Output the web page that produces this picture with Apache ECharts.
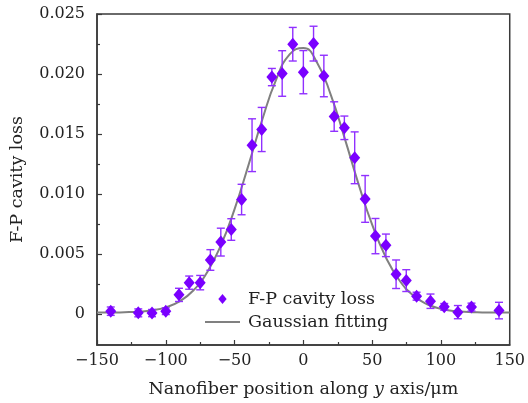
<!DOCTYPE html>
<html>
<head>
<meta charset="utf-8">
<script src="https://cdn.jsdelivr.net/npm/echarts@6/dist/echarts.min.js"></script>
<style>html,body{margin:0;padding:0;background:#fff}#c{width:528px;height:403px}</style>
</head>
<body>
<div id="c"></div>
<script>
// Measured data: position (um), cavity loss, error (half-length)
var positions = [-140, -120, -110, -100, -90.4, -83, -75, -67.6, -60, -52.4, -44.9,
  -37.3, -30.3, -22.9, -15.4, -7.7, 0, 7.4, 14.9, 22.4, 29.8, 37.3,
  44.9, 52.4, 60, 67.4, 74.8, 82.3, 92.4, 102.4, 112.3, 122.2, 142.2];
var lossValues = [0.00022, 0.00008, 0.00006, 0.00022, 0.00158, 0.0026, 0.0026, 0.00449, 0.00598, 0.00703, 0.00953,
  0.01406, 0.01537, 0.01974, 0.02004, 0.02248, 0.02015, 0.02253, 0.01983, 0.01645, 0.01551, 0.01301,
  0.00958, 0.00648, 0.00571, 0.0033, 0.00277, 0.00147, 0.00105, 0.00058, 0.00014, 0.00056, 0.00027];
var lossErrors = [0.00035, 0.00033, 0.0003, 0.00028, 0.00055, 0.00055, 0.0006, 0.00086, 0.00116, 0.0009, 0.00127,
  0.0022, 0.00184, 0.00072, 0.0019, 0.0014, 0.0018, 0.00145, 0.00173, 0.00123, 0.00098, 0.00216,
  0.00195, 0.00147, 0.00094, 0.00119, 0.00091, 0.00033, 0.0006, 0.00028, 0.00055, 0.00033, 0.00069];
// Gaussian fitting curve
var fitX = [-150, -140, -130, -120, -110, -100, -90, -80, -70, -60, -50, -40, -30, -20, -10, 0,
  10, 20, 30, 40, 50, 60, 70, 80, 90, 100, 110, 120, 130, 140, 150];
var fitY = [0.0001, 0.0001, 0.00013, 0.00018, 0.00029, 0.00054, 0.00104, 0.00194, 0.00345, 0.0057, 0.00873,
  0.01236, 0.01615, 0.01946, 0.02163, 0.02216, 0.02094, 0.01824, 0.01465, 0.01086, 0.00743, 0.0047,
  0.00276, 0.00152, 0.0008, 0.00042, 0.00023, 0.00015, 0.00012, 0.0001, 0.0001];
var yMajorTicks = [0, 0.005, 0.01, 0.015, 0.02, 0.025];
var yMinorTicks = [0.0025, 0.0075, 0.0125, 0.0175, 0.0225];

var FONT = 'DejaVu Serif';
var PURPLE = '#7a00ff';
var BAR = '#9030ff';
var AX = '#3a3a3a';

var scatterData = positions.map(function (x, i) { return [x, lossValues[i]]; });
var errData = positions.map(function (x, i) { return [x, lossValues[i] - lossErrors[i], lossValues[i] + lossErrors[i]]; });
var fitData = fitX.map(function (x, i) { return [x, fitY[i]]; });

var chart = echarts.init(document.getElementById('c'), null, {renderer: 'canvas'});
chart.setOption({
  animation: false,
  textStyle: {fontFamily: FONT},
  grid: {left: 96, right: 16, top: 14, bottom: 57, show: true, borderColor: AX, borderWidth: 1.5, backgroundColor: 'transparent'},
  legend: {
    left: 200, top: 285, orient: 'vertical', itemWidth: 35, itemHeight: 10, itemGap: 5,
    symbolKeepAspect: true,
    textStyle: {fontFamily: FONT, fontSize: 17.5, color: '#222', padding: [0, 0, 0, 3]},
    data: [
      {name: 'F-P cavity loss', icon: 'path://M5,0 L10,6 L5,12 L0,6 Z'},
      {name: 'Gaussian fitting', icon: 'path://M0,0 L35,0 L35,2 L0,2 Z', itemStyle: {color: '#808080'}}
    ]
  },
  xAxis: {
    type: 'value', min: -150, max: 150, interval: 50,
    name: 'Nanofiber position along {i|y} axis/μm', nameLocation: 'middle', nameGap: 35,
    nameTextStyle: {fontFamily: FONT, fontSize: 17.5, color: '#222', rich: {i: {fontStyle: 'italic', fontFamily: FONT, fontSize: 17.5, color: '#222'}}},
    axisLine: {show: true, onZero: false, lineStyle: {color: AX, width: 1.5}},
    axisTick: {show: true, inside: true, length: 5, lineStyle: {color: AX, width: 1.2}},
    minorTick: {show: true, splitNumber: 2, length: 3, lineStyle: {color: AX, width: 1.2}},
    axisLabel: {fontFamily: FONT, fontSize: 16, color: '#222', margin: 8,
      formatter: function (v) { return v < 0 ? '\u2212' + Math.abs(v) : String(v); }},
    splitLine: {show: false}
  },
  yAxis: [{
    type: 'value', min: -0.0026, max: 0.025,
    name: 'F-P cavity loss', nameLocation: 'middle', nameGap: 71,
    nameTextStyle: {fontFamily: FONT, fontSize: 17.5, color: '#222'},
    axisLine: {show: true, onZero: false, lineStyle: {color: AX, width: 1.5}},
    axisTick: {show: true, inside: true, length: 5, customValues: yMajorTicks, lineStyle: {color: AX, width: 1.2}},
    axisLabel: {fontFamily: FONT, fontSize: 16, color: '#222', margin: 12, customValues: yMajorTicks,
      formatter: function (v) { return v === 0 ? '0' : v.toFixed(3); }},
    splitLine: {show: false}
  }, {
    type: 'value', min: -0.0026, max: 0.025, position: 'left',
    axisLine: {show: false, onZero: false},
    axisTick: {show: true, inside: true, length: 3, customValues: yMinorTicks, lineStyle: {color: AX, width: 1.2}},
    axisLabel: {show: false},
    splitLine: {show: false}
  }],
  series: [
    {
      name: 'Gaussian fitting', type: 'line', data: fitData, smooth: true, symbol: 'none',
      lineStyle: {color: '#808080', width: 2}, itemStyle: {color: '#808080'}, z: 2
    },
    {
      name: 'error', type: 'custom', data: errData, z: 3,
      renderItem: function (params, api) {
        var x = api.value(0);
        var lo = api.coord([x, api.value(1)]);
        var hi = api.coord([x, api.value(2)]);
        var half = 4;
        var st = {stroke: BAR, lineWidth: 1.4, fill: null};
        return {type: 'group', children: [
          {type: 'line', shape: {x1: lo[0], y1: lo[1], x2: hi[0], y2: hi[1]}, style: st},
          {type: 'line', shape: {x1: lo[0] - half, y1: lo[1], x2: lo[0] + half, y2: lo[1]}, style: st},
          {type: 'line', shape: {x1: hi[0] - half, y1: hi[1], x2: hi[0] + half, y2: hi[1]}, style: st}
        ]};
      }
    },
    {
      name: 'F-P cavity loss', type: 'scatter', data: scatterData, symbol: 'diamond', symbolSize: [11, 13],
      itemStyle: {color: PURPLE, opacity: 1}, z: 4
    }
  ]
});
</script>
</body>
</html>
